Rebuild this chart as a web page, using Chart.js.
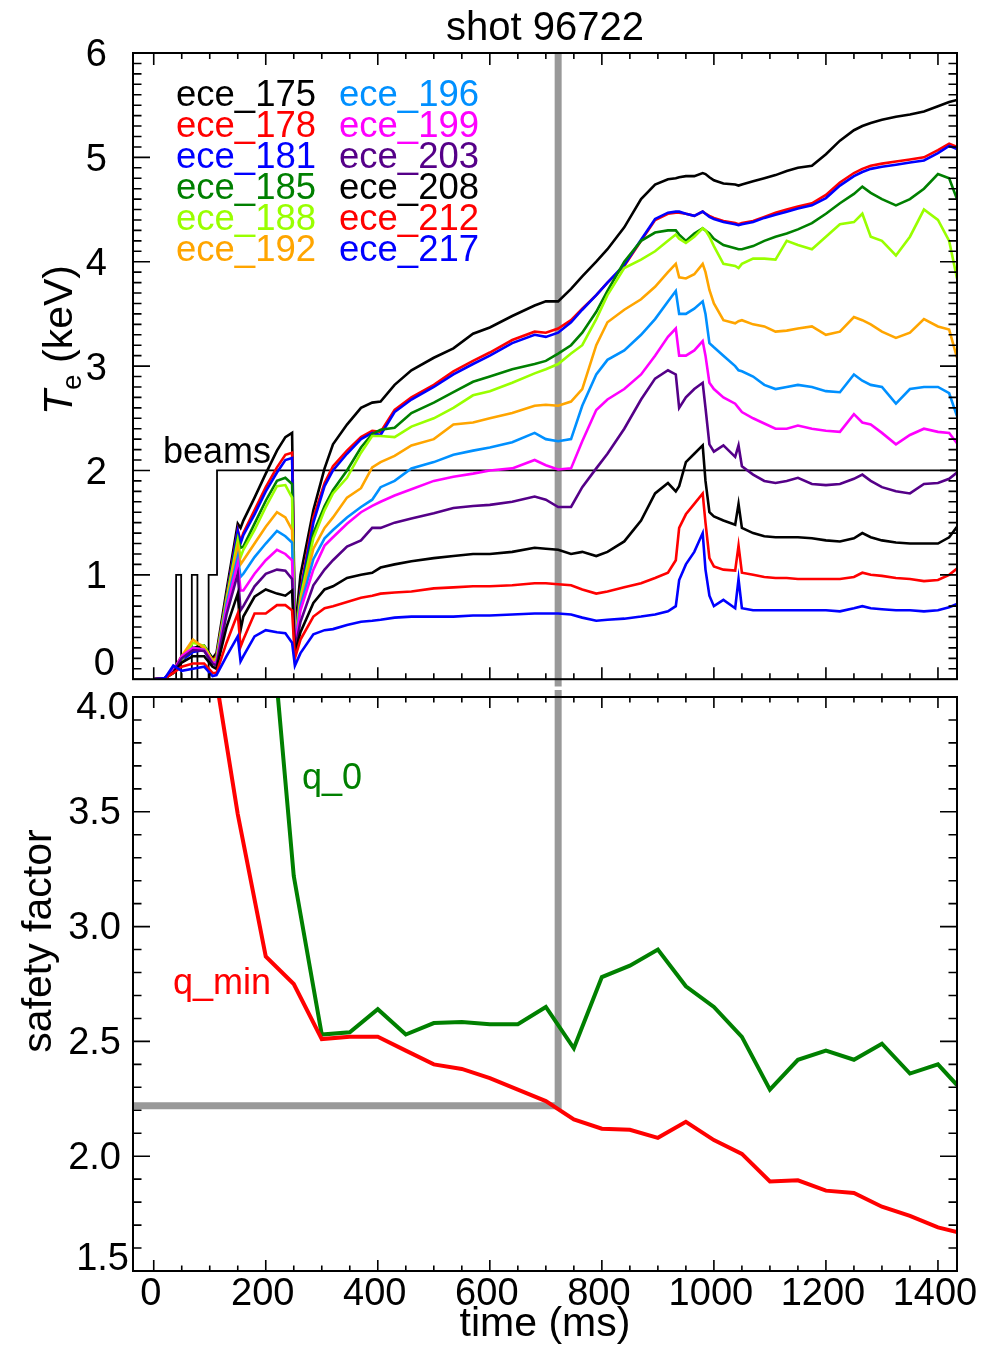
<!DOCTYPE html>
<html><head><meta charset="utf-8">
<script src="https://cdn.jsdelivr.net/npm/chart.js@4.4.1/dist/chart.umd.min.js"></script>
<style>
html,body{margin:0;padding:0;background:#fff;}
#wrap{position:relative;width:999px;height:1349px;overflow:hidden;}
#c1{position:absolute;left:0;top:0;}
#c2{position:absolute;left:0;top:660px;}
</style></head><body>
<div id="wrap"><canvas id="c1" width="999" height="720"></canvas><canvas id="c2" width="999" height="689"></canvas></div>
<script>
// ---------------- data ----------------
const times = [0,20,35,50,70,90,105,112,130,150,155,160,180,200,220,235,247,252,262,285,305,320,345,370,390,405,430,460,500,535,570,600,640,680,700,722,745,765,790,810,840,870,895,918,932,938,950,965,980,985,992,1000,1017,1038,1044,1050,1070,1090,1110,1130,1150,1175,1200,1225,1250,1265,1280,1300,1325,1350,1375,1400,1420,1434];

const ece175 = [0,0.01,0.08,0.22,0.3,0.32,0.2,0.25,0.85,1.49,1.45,1.52,1.74,1.97,2.19,2.32,2.36,0.45,1.0,1.62,2.02,2.25,2.44,2.6,2.65,2.66,2.82,2.96,3.08,3.17,3.31,3.37,3.48,3.58,3.62,3.62,3.74,3.86,4.0,4.12,4.33,4.6,4.74,4.79,4.8,4.81,4.82,4.82,4.85,4.84,4.81,4.78,4.75,4.74,4.73,4.74,4.77,4.8,4.83,4.87,4.9,4.92,5.03,5.16,5.26,5.3,5.33,5.36,5.39,5.41,5.44,5.49,5.53,5.55];
const ece178 = [0,0.01,0.08,0.2,0.28,0.3,0.18,0.22,0.8,1.43,1.32,1.4,1.62,1.84,2.03,2.15,2.17,0.4,0.85,1.55,1.88,2.04,2.19,2.32,2.38,2.37,2.58,2.7,2.82,2.95,3.05,3.13,3.25,3.33,3.32,3.36,3.44,3.55,3.68,3.8,3.96,4.2,4.4,4.46,4.47,4.47,4.46,4.44,4.48,4.46,4.44,4.42,4.39,4.37,4.36,4.37,4.39,4.43,4.47,4.5,4.53,4.56,4.64,4.76,4.85,4.89,4.92,4.94,4.96,4.98,5.0,5.07,5.13,5.1];
const ece181 = [0,0.01,0.1,0.18,0.26,0.28,0.15,0.2,0.79,1.42,1.3,1.38,1.58,1.8,1.98,2.1,2.12,0.38,0.83,1.5,1.85,2.0,2.16,2.3,2.36,2.34,2.56,2.68,2.8,2.92,3.02,3.1,3.22,3.3,3.28,3.32,3.42,3.54,3.68,3.8,3.97,4.21,4.41,4.47,4.48,4.48,4.46,4.44,4.48,4.46,4.43,4.41,4.38,4.36,4.35,4.36,4.38,4.42,4.45,4.48,4.51,4.54,4.61,4.73,4.82,4.86,4.89,4.91,4.93,4.95,4.97,5.04,5.11,5.08];
const ece185 = [0,0.01,0.08,0.2,0.28,0.3,0.17,0.2,0.78,1.35,1.26,1.27,1.49,1.71,1.9,1.93,1.87,0.36,0.8,1.4,1.66,1.81,2.0,2.22,2.35,2.39,2.41,2.55,2.65,2.75,2.85,2.9,2.97,3.02,3.05,3.12,3.2,3.32,3.52,3.72,4.0,4.2,4.28,4.3,4.3,4.26,4.2,4.27,4.32,4.3,4.27,4.22,4.16,4.13,4.12,4.12,4.15,4.2,4.24,4.27,4.31,4.37,4.46,4.56,4.65,4.72,4.66,4.6,4.54,4.6,4.7,4.84,4.8,4.6];
const ece188 = [0,0.01,0.06,0.18,0.35,0.32,0.18,0.2,0.77,1.33,1.17,1.24,1.43,1.65,1.85,1.86,1.74,0.35,0.78,1.35,1.62,1.78,1.93,2.17,2.33,2.33,2.32,2.42,2.5,2.6,2.72,2.76,2.84,2.93,2.97,3.02,3.12,3.2,3.45,3.68,3.94,4.02,4.1,4.2,4.26,4.22,4.18,4.24,4.32,4.3,4.24,4.15,3.98,3.96,3.94,3.98,4.03,4.03,4.02,4.2,4.16,4.12,4.24,4.36,4.38,4.46,4.24,4.2,4.06,4.24,4.5,4.4,4.2,3.84];
const ece192 = [0,0.01,0.08,0.22,0.38,0.3,0.18,0.18,0.75,1.27,1.1,1.14,1.3,1.46,1.6,1.55,1.43,0.33,0.74,1.25,1.45,1.55,1.74,1.83,2.03,2.08,2.14,2.24,2.3,2.44,2.46,2.5,2.55,2.62,2.63,2.62,2.66,2.78,3.2,3.42,3.54,3.64,3.76,3.9,3.98,3.85,3.84,3.88,3.98,3.9,3.73,3.6,3.44,3.41,3.43,3.44,3.4,3.38,3.33,3.34,3.36,3.38,3.3,3.33,3.47,3.44,3.4,3.33,3.27,3.32,3.45,3.38,3.35,3.08];
const ece196 = [0,0.01,0.07,0.2,0.3,0.28,0.15,0.16,0.72,1.17,0.98,1.01,1.17,1.3,1.42,1.37,1.31,0.32,0.7,1.15,1.35,1.43,1.55,1.65,1.72,1.84,1.9,2.02,2.08,2.15,2.19,2.22,2.27,2.36,2.3,2.28,2.3,2.62,2.92,3.06,3.15,3.3,3.45,3.62,3.72,3.5,3.5,3.55,3.62,3.5,3.22,3.18,3.1,3.0,2.96,2.95,2.9,2.82,2.78,2.8,2.82,2.8,2.76,2.75,2.92,2.86,2.82,2.8,2.64,2.78,2.8,2.8,2.74,2.52];
const ece199 = [0,0.01,0.08,0.22,0.3,0.28,0.16,0.15,0.68,1.11,0.85,0.85,1.01,1.14,1.24,1.2,1.14,0.3,0.66,1.05,1.28,1.36,1.49,1.6,1.66,1.7,1.76,1.82,1.9,1.94,1.97,2.0,2.02,2.1,2.05,2.01,2.02,2.28,2.58,2.68,2.78,2.92,3.1,3.28,3.36,3.1,3.1,3.15,3.24,3.1,2.84,2.78,2.7,2.64,2.6,2.56,2.5,2.45,2.4,2.4,2.43,2.4,2.38,2.37,2.54,2.46,2.44,2.36,2.25,2.34,2.4,2.37,2.36,2.26];
const ece203 = [0,0.01,0.07,0.2,0.28,0.27,0.15,0.13,0.62,1.01,0.66,0.7,0.89,1.01,1.05,1.04,0.96,0.28,0.55,0.9,1.05,1.14,1.27,1.33,1.45,1.45,1.5,1.54,1.59,1.64,1.66,1.67,1.7,1.75,1.72,1.65,1.65,1.84,2.02,2.16,2.4,2.68,2.88,2.96,2.92,2.6,2.7,2.78,2.84,2.6,2.25,2.18,2.24,2.13,2.24,2.04,1.96,1.9,1.88,1.9,1.93,1.87,1.86,1.87,1.92,1.96,1.9,1.84,1.8,1.78,1.87,1.88,1.92,1.98];
const ece208 = [0,0.01,0.06,0.16,0.22,0.22,0.12,0.1,0.5,0.82,0.47,0.6,0.79,0.86,0.82,0.8,0.85,0.25,0.45,0.73,0.86,0.89,0.97,1.0,1.02,1.07,1.1,1.13,1.16,1.18,1.2,1.2,1.22,1.26,1.25,1.24,1.2,1.22,1.18,1.22,1.32,1.52,1.78,1.88,1.8,1.85,2.08,2.16,2.24,1.9,1.6,1.56,1.52,1.48,1.68,1.45,1.4,1.37,1.36,1.36,1.36,1.35,1.33,1.32,1.35,1.4,1.36,1.33,1.31,1.3,1.3,1.3,1.36,1.46];
const ece212 = [0,0.01,0.06,0.12,0.15,0.15,0.06,0.06,0.35,0.63,0.31,0.38,0.63,0.63,0.71,0.71,0.66,0.2,0.38,0.6,0.68,0.7,0.74,0.78,0.8,0.82,0.83,0.84,0.87,0.88,0.89,0.89,0.9,0.92,0.92,0.91,0.9,0.86,0.82,0.84,0.88,0.92,0.97,1.02,1.14,1.45,1.58,1.68,1.78,1.5,1.16,1.08,1.05,1.04,1.28,1.02,1.0,0.98,0.97,0.97,0.96,0.96,0.96,0.96,0.98,1.02,1.0,0.99,0.97,0.96,0.94,0.95,1.0,1.06];
const ece217 = [0,0.01,0.13,0.08,0.1,0.12,0.03,0.04,0.22,0.41,0.17,0.22,0.41,0.47,0.45,0.44,0.35,0.13,0.25,0.43,0.47,0.48,0.52,0.55,0.56,0.57,0.59,0.6,0.6,0.6,0.61,0.61,0.62,0.63,0.63,0.63,0.62,0.59,0.56,0.57,0.58,0.6,0.62,0.65,0.7,0.95,1.1,1.22,1.4,1.05,0.8,0.7,0.76,0.68,0.96,0.68,0.66,0.66,0.66,0.66,0.66,0.66,0.66,0.65,0.68,0.7,0.68,0.67,0.66,0.66,0.65,0.66,0.69,0.72];

const channels = ['ece_175','ece_178','ece_181','ece_185','ece_188','ece_192','ece_196','ece_199','ece_203','ece_208','ece_212','ece_217'];
const eceSeries = [ece175,ece178,ece181,ece185,ece188,ece192,ece196,ece199,ece203,ece208,ece212,ece217];

const beamTimes  = [0,40,49,68,78,98,113,1434];
const beamLevels = [0,1,0,1,0,1,2,2];

const markTime = 722;
const markQ = 2.22;

const qTimes = [100,150,200,250,300,350,400,450,500,550,600,650,700,750,800,850,900,950,1000,1050,1100,1150,1200,1250,1300,1350,1400,1434];
const qMin = [4.25,3.49,2.87,2.75,2.51,2.52,2.52,2.46,2.40,2.38,2.34,2.29,2.24,2.16,2.12,2.115,2.08,2.15,2.07,2.01,1.89,1.895,1.85,1.84,1.78,1.74,1.69,1.67];
const q0   = [null,null,4.6,3.22,2.53,2.54,2.64,2.53,2.58,2.585,2.575,2.575,2.65,2.47,2.78,2.83,2.9,2.74,2.65,2.52,2.29,2.42,2.46,2.42,2.49,2.36,2.40,2.31];

const timeTicks = [0,200,400,600,800,1000,1200,1400];
const teTicks = [0,1,2,3,4,5,6];
const qTicks = [1.5,2.0,2.5,3.0,3.5,4.0];

// ---------------- styles ----------------
const FAM = '"Liberation Sans", Arial, Helvetica, sans-serif';
const colors = ['#000000','#ff0000','#0000ff','#008000','#99ff00','#ffa500','#0090ff','#ff00ff','#550088','#000000','#ff0000','#0000ff'];
const GRAY = '#999999';
Chart.defaults.font.family = FAM;

function frameTicks(id, xLen, yLen, yMajorTenths) {
  return { id, afterDatasetsDraw(chart) {
    const {ctx, chartArea: a, scales: {x, y}} = chart;
    ctx.save();
    ctx.strokeStyle = '#000'; ctx.lineWidth = 1.6; ctx.beginPath();
    for (let k = Math.ceil(x.min / 50); k * 50 <= x.max; k++) {
      const px = x.getPixelForValue(k * 50);
      const L = (k % 4 === 0) ? xLen : xLen / 2;
      ctx.moveTo(px, a.bottom); ctx.lineTo(px, a.bottom - L);
      ctx.moveTo(px, a.top); ctx.lineTo(px, a.top + L);
    }
    for (let j = Math.ceil(y.min * 10 - 1e-6); j <= Math.floor(y.max * 10 + 1e-6); j++) {
      const py = y.getPixelForValue(j / 10);
      const L = (j % yMajorTenths === 0) ? yLen : yLen / 2;
      ctx.moveTo(a.left, py); ctx.lineTo(a.left + L, py);
      ctx.moveTo(a.right, py); ctx.lineTo(a.right - L, py);
    }
    ctx.stroke();
    ctx.lineWidth = 2;
    ctx.strokeRect(a.left, a.top, a.right - a.left, a.bottom - a.top);
    ctx.restore();
  }};
}

// end labels of the y axes are nudged inside the frame (as in the original plot)
function endLabels(id, items, pad) {
  return { id, afterDraw(chart) {
    const {ctx, chartArea: a, scales: {y}} = chart;
    ctx.save();
    ctx.fillStyle = '#000'; ctx.font = '38px ' + FAM;
    ctx.textAlign = 'right'; ctx.textBaseline = 'middle';
    items.forEach(it => ctx.fillText(it.text, a.left - pad, y.getPixelForValue(it.value) + it.shift));
    ctx.restore();
  }};
}

const topText = { id: 'topText', afterDraw(chart) {
  const {ctx, chartArea: a} = chart;
  ctx.save();
  ctx.textBaseline = 'alphabetic';
  ctx.fillStyle = '#000';
  ctx.font = '40px ' + FAM; ctx.textAlign = 'center';
  ctx.fillText('shot 96722', (a.left + a.right) / 2, 40);
  ctx.textAlign = 'left';
  ctx.font = '36.5px ' + FAM;
  chart.data.datasets.slice(0, channels.length).forEach((ds, i) => {
    const col = Math.floor(i / 6), row = i % 6;
    ctx.fillStyle = ds.borderColor;
    ctx.fillText(ds.label, col ? 339 : 176, 106 + row * 30.9);
  });
  ctx.fillStyle = '#000'; ctx.font = '36px ' + FAM;
  ctx.fillText('beams', 163, 463);
  // y title: T_e (keV)
  ctx.translate(72, 340); ctx.rotate(-Math.PI / 2);
  const fT = 'italic 41px ' + FAM, fS = '28px ' + FAM, fR = '41px ' + FAM;
  ctx.font = fT; const wT = ctx.measureText('T').width;
  ctx.font = fS; const wE = ctx.measureText('e').width;
  ctx.font = fR; const wR = ctx.measureText(' (keV)').width;
  let sx = -(wT + wE + wR) / 2;
  ctx.font = fT; ctx.fillText('T', sx, 0); sx += wT;
  ctx.font = fS; ctx.fillText('e', sx, 9); sx += wE;
  ctx.font = fR; ctx.fillText(' (keV)', sx, 0);
  ctx.restore();
}};

const bottomText = { id: 'bottomText', afterDraw(chart) {
  const {ctx} = chart;
  ctx.save();
  ctx.textBaseline = 'alphabetic'; ctx.textAlign = 'left';
  ctx.font = '36px ' + FAM;
  ctx.fillStyle = '#008000'; ctx.fillText('q_0', 302, 129);
  ctx.fillStyle = '#ff0000'; ctx.fillText('q_min', 173, 334);
  ctx.fillStyle = '#000'; ctx.font = '41px ' + FAM;
  ctx.translate(51, 281); ctx.rotate(-Math.PI / 2);
  ctx.textAlign = 'center';
  ctx.fillText('safety factor', 0, 0);
  ctx.restore();
}};

// ---------------- top chart ----------------
const eceDatasets = eceSeries.map((vals, i) => ({
  label: channels[i],
  data: times.map((t, k) => ({x: t, y: vals[k]})),
  borderColor: colors[i], backgroundColor: colors[i],
  borderWidth: 2.6, pointRadius: 0, tension: 0, fill: false, order: -i
}));
const beamsDs = {
  label: 'beams', data: beamTimes.map((t, k) => ({x: t, y: beamLevels[k]})),
  stepped: 'before', borderColor: '#000', borderWidth: 1.8, pointRadius: 0, fill: false, order: 5
};
const markTopDs = {
  label: 'mark', data: [{x: markTime, y: -0.07}, {x: markTime, y: 6}],
  borderColor: GRAY, borderWidth: 7, pointRadius: 0, fill: false, order: 10,
  borderCapStyle: 'butt', clip: {left: 0, top: 0, right: 0, bottom: 10}
};

const teFirst = teTicks[0];
new Chart(document.getElementById('c1'), {
  type: 'line',
  data: {datasets: [...eceDatasets, beamsDs, markTopDs]},
  options: {
    responsive: false, animation: false, events: [],
    layout: {padding: {left: 0, right: 42, top: 53, bottom: 37}},
    plugins: {legend: {display: false}, tooltip: {enabled: false}},
    scales: {
      x: {type: 'linear', display: false, min: -37, max: 1434},
      y: {type: 'linear', min: 0, max: 6,
        afterFit: s => { s.width = 133; },
        afterBuildTicks: s => { s.ticks = teTicks.map(v => ({value: v})); },
        grid: {display: false}, border: {display: false},
        ticks: {color: '#000', padding: 18, labelOffset: 3, font: {size: 38, family: FAM},
          callback: v => (v === teFirst ? '' : String(v))}}
    }
  },
  plugins: [frameTicks('ft1', 12, 17, 10), topText,
            endLabels('el1', [{text: String(teFirst), value: teFirst, shift: -15}], 18)]
});

// ---------------- bottom chart ----------------
const qMinDs = {label: 'q_min', data: qTimes.map((t, k) => ({x: t, y: qMin[k]})),
  borderColor: '#ff0000', borderWidth: 4, pointRadius: 0, fill: false, tension: 0, clip: 0, order: 1};
const q0Ds = {label: 'q_0', data: qTimes.map((t, k) => ({x: t, y: q0[k]})),
  borderColor: '#008000', borderWidth: 4, pointRadius: 0, fill: false, tension: 0, clip: 0, order: 2};
const markBotDs = {label: 'mark', data: [{x: -37, y: markQ}, {x: markTime, y: markQ}, {x: markTime, y: 4.031}],
  borderColor: GRAY, borderWidth: 7, pointRadius: 0, fill: false, order: 10,
  borderCapStyle: 'butt', borderJoinStyle: 'miter', clip: {left: 0, top: 10, right: 0, bottom: 0}};

const qLo = qTicks[0], qHi = qTicks[qTicks.length - 1];
new Chart(document.getElementById('c2'), {
  type: 'line',
  data: {datasets: [qMinDs, q0Ds, markBotDs]},
  options: {
    responsive: false, animation: false, events: [],
    layout: {padding: {left: 0, right: 42, top: 37, bottom: 0}},
    plugins: {legend: {display: false}, tooltip: {enabled: false}},
    scales: {
      x: {type: 'linear', min: -37, max: 1434,
        afterFit: s => { s.height = 78; },
        afterBuildTicks: s => { s.ticks = timeTicks.map(v => ({value: v})); },
        grid: {display: false}, border: {display: false},
        ticks: {color: '#000', padding: -3, labelOffset: -3, autoSkip: false, maxRotation: 0,
          font: {size: 38, family: FAM, lineHeight: 1}, callback: v => String(v)},
        title: {display: true, text: 'time (ms)', color: '#000', font: {size: 41, family: FAM, lineHeight: 1.2}, padding: {top: 0, bottom: 0}}},
      y: {type: 'linear', min: 1.5, max: 4.0,
        afterFit: s => { s.width = 133; },
        afterBuildTicks: s => { s.ticks = qTicks.map(v => ({value: v})); },
        grid: {display: false}, border: {display: false},
        ticks: {color: '#000', padding: 4, labelOffset: 2, font: {size: 38, family: FAM},
          callback: v => (v === qLo || v === qHi ? '' : Number(v).toFixed(1))}}
    }
  },
  plugins: [frameTicks('ft2', 11, 17, 5), bottomText,
            endLabels('el2', [{text: qHi.toFixed(1), value: qHi, shift: 12}, {text: qLo.toFixed(1), value: qLo, shift: -11}], 4)]
});
</script>
</body></html>
